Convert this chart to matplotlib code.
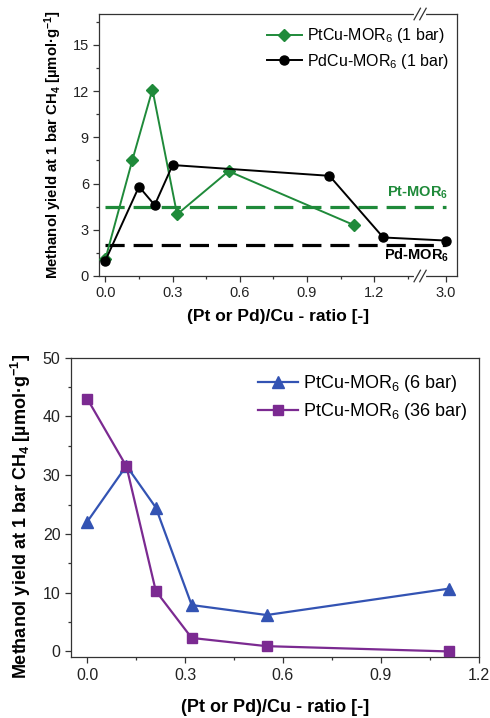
import numpy as np
import matplotlib
matplotlib.use("Agg")
import matplotlib.pyplot as plt
from matplotlib.ticker import FixedLocator, MultipleLocator

plt.rcParams['font.family'] = ['Liberation Sans', 'DejaVu Sans']
plt.rcParams['mathtext.fontset'] = 'custom'
plt.rcParams['mathtext.rm'] = 'Liberation Sans'
plt.rcParams['mathtext.it'] = 'Liberation Sans:italic'
plt.rcParams['mathtext.bf'] = 'Liberation Sans:bold'

# ---------------- data ----------------
pt1_x = [0.0, 0.12, 0.21, 0.32, 0.55, 1.11]
pt1_y = [1.1, 7.5, 12.1, 4.0, 6.8, 3.3]
pd1_x = [0.0, 0.15, 0.22, 0.30, 1.00, 1.24, 3.0]
pd1_y = [1.0, 5.8, 4.6, 7.2, 6.5, 2.5, 2.3]
pt_mor_ref = 4.5
pd_mor_ref = 2.0

pt6_x = [0.0, 0.12, 0.21, 0.32, 0.55, 1.11]
pt6_y = [22.1, 31.6, 24.5, 7.9, 6.2, 10.7]
pt36_x = [0.0, 0.12, 0.21, 0.32, 0.55, 1.11]
pt36_y = [43.0, 31.5, 10.3, 2.3, 0.9, 0.0]

top_xticks = [0.0, 0.3, 0.6, 0.9, 1.2, 3.0]
top_xticklabels = ['0.0', '0.3', '0.6', '0.9', '1.2', '3.0']

GREEN = '#1f8a3a'
BLACK = '#000000'
BLUE = '#3353b3'
PURPLE = '#7b2a91'

# broken x scale
_xp = [-10.0, 1.4, 2.9, 10.0]
_fp = [-10.0, 1.4, 1.42, 8.52]
def fwd(x):
    return np.interp(x, _xp, _fp)
def inv(y):
    return np.interp(y, _fp, _xp)

fig = plt.figure(figsize=(4.9, 7.18), dpi=100)

# ---------------- top panel ----------------
ax1 = fig.add_axes([0.2027, 0.6156, 0.7294, 0.3649])
ax1.set_xscale('function', functions=(fwd, inv))
ax1.set_xlim(-0.027, 3.048)
ax1.set_ylim(0, 17)

ax1.plot([0.0, 3.0], [pt_mor_ref, pt_mor_ref], color=GREEN, lw=2.3,
         dashes=(6.0, 2.8), zorder=1)
ax1.plot([0.0, 3.0], [pd_mor_ref, pd_mor_ref], color=BLACK, lw=2.3,
         dashes=(6.0, 2.8), zorder=1)
ax1.plot(pt1_x, pt1_y, color=GREEN, lw=1.4, marker='D', ms=6.5,
         label=r'PtCu-MOR$_6$ (1 bar)', zorder=3)
ax1.plot(pd1_x, pd1_y, color=BLACK, lw=1.4, marker='o', ms=6.5,
         label=r'PdCu-MOR$_6$ (1 bar)', zorder=3)

ax1.text(0.975, 0.317, r'Pt-MOR$_\mathbf{6}$', transform=ax1.transAxes,
         color=GREEN, fontweight='bold', fontsize=10.5, ha='right', va='center')
ax1.text(0.98, 0.08, r'Pd-MOR$_\mathbf{6}$', transform=ax1.transAxes,
         color=BLACK, fontweight='bold', fontsize=10.5, ha='right', va='center')

ax1.xaxis.set_major_locator(FixedLocator(top_xticks))
ax1.set_xticklabels(top_xticklabels)
ax1.xaxis.set_minor_locator(FixedLocator([0.15, 0.45, 0.75, 1.05, 1.35]))
ax1.yaxis.set_major_locator(MultipleLocator(3))
ax1.yaxis.set_minor_locator(MultipleLocator(1.5))
ax1.set_yticks([0, 3, 6, 9, 12, 15])

ax1.legend(loc='upper right', bbox_to_anchor=(1.005, 0.99), frameon=False,
           fontsize=11.5, handlelength=2.2, handletextpad=0.3,
           labelspacing=0.4, borderaxespad=0.2)

ax1.set_xlabel('(Pt or Pd)/Cu - ratio [-]', fontsize=12.5, fontweight='bold')
ax1.xaxis.set_label_coords(0.5, -0.125)
ax1.set_ylabel(r'Methanol yield at 1 bar CH$_\mathbf{4}$ [µmol·g$^\mathbf{-1}$]',
               fontsize=10.7, fontweight='bold')
ax1.yaxis.set_label_coords(-0.098, 0.5)

# break marks
bx = 0.8975
for yy in (0.0, 1.0):
    ax1.plot([bx - 0.012, bx + 0.012], [yy, yy], transform=ax1.transAxes,
             color='white', lw=3, clip_on=False, zorder=10)
    for dx in (-0.008, 0.008):
        ax1.plot([bx + dx - 0.009, bx + dx + 0.009], [yy - 0.022, yy + 0.022],
                 transform=ax1.transAxes, color='#333333', lw=0.9,
                 clip_on=False, zorder=11)

# ---------------- bottom panel ----------------
ax2 = fig.add_axes([0.1449, 0.0845, 0.832, 0.4173])
ax2.set_xlim(-0.05, 1.2)
ax2.set_ylim(-1, 50)
ax2.plot(pt6_x, pt6_y, color=BLUE, lw=1.6, marker='^', ms=9,
         label=r'PtCu-MOR$_6$ (6 bar)', zorder=3)
ax2.plot(pt36_x, pt36_y, color=PURPLE, lw=1.6, marker='s', ms=7,
         label=r'PtCu-MOR$_6$ (36 bar)', zorder=3)
ax2.xaxis.set_major_locator(MultipleLocator(0.3))
ax2.xaxis.set_minor_locator(MultipleLocator(0.15))
ax2.yaxis.set_major_locator(MultipleLocator(10))
ax2.yaxis.set_minor_locator(MultipleLocator(5))
ax2.legend(loc='upper right', bbox_to_anchor=(1.0, 0.985), frameon=False,
           fontsize=13, handlelength=2.2, handletextpad=0.3,
           labelspacing=0.4, borderaxespad=0.2)
ax2.set_xlabel('(Pt or Pd)/Cu - ratio [-]', fontsize=13, fontweight='bold')
ax2.xaxis.set_label_coords(0.5, -0.14)
ax2.set_ylabel(r'Methanol yield at 1 bar CH$_\mathbf{4}$ [µmol·g$^\mathbf{-1}$]',
               fontsize=13, fontweight='bold')
ax2.yaxis.set_label_coords(-0.093, 0.47)

for ax, fs in ((ax1, 10.5), (ax2, 11.5)):
    ax.tick_params(which='both', direction='out', width=0.9, colors='#333333',
                   labelcolor='#222222', labelsize=fs)
    ax.tick_params(which='major', length=4)
    ax.tick_params(which='minor', length=2.5)
    ax.tick_params(axis='x', which='both', top=False)
    ax.tick_params(axis='y', which='both', right=False)
    for sp in ax.spines.values():
        sp.set_linewidth(0.9)
        sp.set_color('#333333')

fig.savefig('out.png', dpi=100)
